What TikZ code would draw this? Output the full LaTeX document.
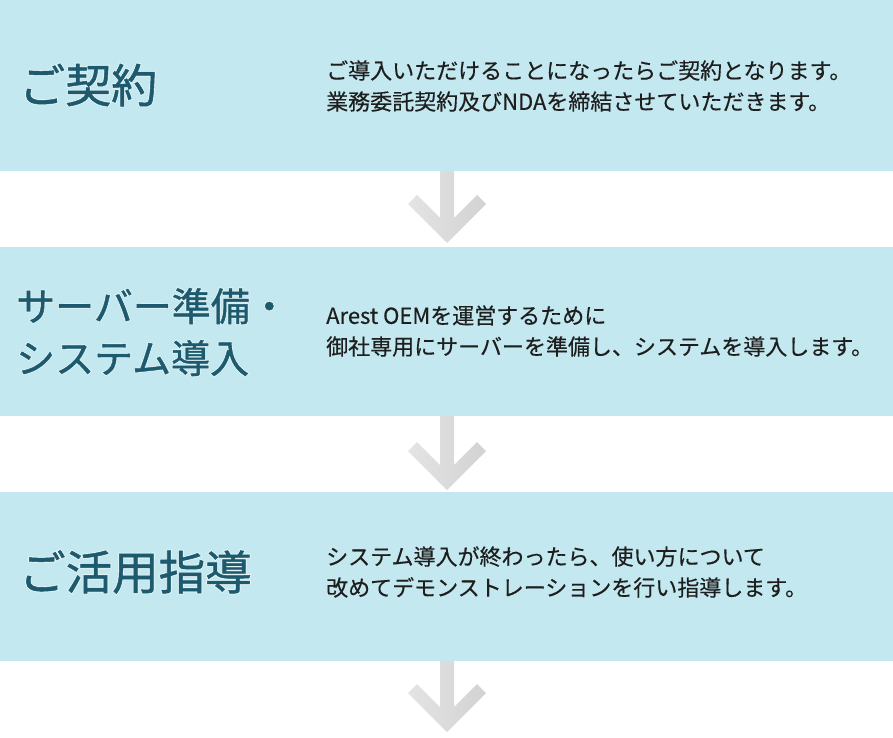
\documentclass[tikz,border=0pt]{standalone}
\usepackage{fontspec}
\newfontfamily\jp[FakeBold=0.35]{Noto Sans CJK JP}
\newfontfamily\jpt[FakeBold=1.1]{Noto Sans CJK JP}
\newfontfamily\jpglow[FakeBold=5]{Noto Sans CJK JP}
\usetikzlibrary{calc}
\definecolor{bandblue}{HTML}{C3E8EF}
\definecolor{ttlcol}{HTML}{1D5A6E}
\definecolor{txtcol}{HTML}{1E1E1E}
\definecolor{arrowlight}{HTML}{E4E4E4}
\definecolor{arrowdark}{HTML}{D2D2D2}
\newcommand{\glowtitle}[4]{% name, position, size, text
  \node[titlebox, font=\jpglow\fontsize{#3}{52}\selectfont, text=white, opacity=0.55] at (#2) {#4};
  \node[titlebox, font=\jpt\fontsize{#3}{52}\selectfont] (#1) at (#2) {#4};
}
\newcommand{\flowdown}[2]{% top y, tip y
  \shade[left color=arrowlight, right color=arrowdark]
    (440,#1) -- (454,#1) -- (454,#2-25) -- (477,#2-48) -- (486,#2-39) -- (447,#2)
    -- (408,#2-39) -- (417,#2-48) -- (440,#2-25) -- cycle;
}
\begin{document}
\begin{tikzpicture}[x=1pt,y=-1pt,
  bandbox/.style={fill=bandblue, draw=none, inner sep=0pt, outer sep=0pt,
    minimum width=893pt, anchor=north west},
  titlebox/.style={anchor=west, inner sep=0pt, text=ttlcol, align=left},
  bodybox/.style={anchor=west, inner sep=0pt, text=txtcol, align=left,
    font=\jp\fontsize{22}{31}\selectfont}]
\useasboundingbox (0,0) rectangle (893,737);
\fill[white] (0,0) rectangle (893,737);

\node[bandbox, minimum height=171pt] (b1) at (0,0) {};
\node[bandbox, minimum height=169pt] (b2) at (0,247) {};
\node[bandbox, minimum height=169pt] (b3) at (0,492) {};

\flowdown{171}{243}
\flowdown{416}{490}
\flowdown{661}{732}

\glowtitle{t1}{19,85}{46}{ご契約}
\glowtitle{t2}{16,332}{39}{サーバー準備・\\システム導入}
\glowtitle{t3}{19,572}{46.5}{ご活用指導}

\node[bodybox] (d1) at (326,86) {ご導入いただけることになったらご契約となります。\\業務委託契約及びNDAを締結させていただきます。};
\node[bodybox] (d2) at (326,331) {Arest OEMを運営するために\\御社専用にサーバーを準備し、システムを導入します。};
\node[bodybox] (d3) at (326,572) {システム導入が終わったら、使い方について\\改めてデモンストレーションを行い指導します。};
\end{tikzpicture}
\end{document}
